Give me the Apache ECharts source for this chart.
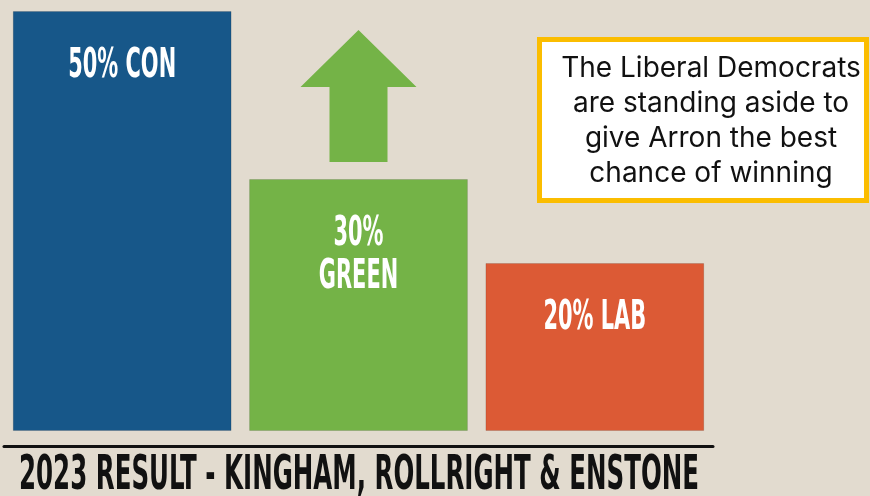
<!DOCTYPE html>
<html>
<head>
<meta charset="utf-8">
<script src="https://cdn.jsdelivr.net/npm/echarts@6/dist/echarts.min.js"></script>
<style>
  html, body { margin: 0; padding: 0; background: #e2dbcf; }
  #chart { width: 870px; height: 496px; }
</style>
</head>
<body>
<div id="chart"></div>
<script>
const parties = ['CON', 'GREEN', 'LAB'];
const shares = [50, 30, 20];
const barLabels = ['50% CON', '30%\nGREEN', '20% LAB'];
const barColors = ['#175789', '#74b347', '#dc5a35'];
const title = '2023 RESULT - KINGHAM, ROLLRIGHT & ENSTONE';
const note = 'The Liberal Democrats\nare standing aside to\ngive Arron the best\nchance of winning';

const condensed = "'Liberation Sans Narrow', 'DejaVu Sans Condensed', sans-serif";

const chart = echarts.init(document.getElementById('chart'));

// squeeze text to a width, the poster font is much narrower than what we have
function fitScale(text, font, target) {
  const ctx = document.createElement('canvas').getContext('2d');
  ctx.font = font;
  return target / ctx.measureText(text).width;
}

const labelFont = 'bold 40px ' + condensed;
const labelScale = fitScale('50% CON', labelFont, 108);

chart.setOption({
  backgroundColor: '#e2dbcf',
  animation: false,
  grid: { left: 4, width: 709, top: 11, bottom: 65 },
  xAxis: {
    type: 'category',
    data: parties,
    offset: 15,
    axisLine: { onZero: false, lineStyle: { color: '#111', width: 3 } },
    axisTick: { show: false },
    axisLabel: { show: false }
  },
  yAxis: { type: 'value', min: 0, max: 50, show: false, splitLine: { show: false } },
  series: [
    {
      type: 'bar',
      data: shares.map((v, i) => ({ value: v, itemStyle: { color: barColors[i] } })),
      barCategoryGap: '7.4%',
      itemStyle: { borderColor: 'rgba(0,0,0,0.12)', borderWidth: 1 }
    },
    {
      type: 'custom',
      data: shares.map((v, i) => [i, v]),
      renderItem: function (params, api) {
        const p = api.coord([api.value(0), api.value(1)]);
        return {
          type: 'text',
          x: p[0],
          y: p[1] + 34,
          scaleX: labelScale,
          style: {
            text: barLabels[params.dataIndex],
            fill: '#fff',
            font: labelFont,
            lineHeight: 43,
            align: 'center',
            verticalAlign: 'top'
          }
        };
      },
      z: 5
    }
  ]
});

// arrow sits above the green bar
const g = chart.convertToPixel({ seriesIndex: 0 }, [1, shares[1]]);
const cx = g[0], barTop = g[1];
const arrow = [
  [cx, barTop - 149],
  [cx + 58, barTop - 92],
  [cx + 29, barTop - 92],
  [cx + 29, barTop - 17],
  [cx - 29, barTop - 17],
  [cx - 29, barTop - 92],
  [cx - 58, barTop - 92]
];

const titleFont = 'bold 48px ' + condensed;

chart.setOption({
  graphic: [
    {
      type: 'polygon',
      shape: { points: arrow },
      style: { fill: '#74b347' }
    },
    {
      type: 'text',
      x: 19,
      y: 477,
      scaleX: fitScale(title, titleFont, 680),
      style: {
        text: title,
        font: titleFont,
        fill: '#111',
        align: 'left',
        verticalAlign: 'middle'
      }
    },
    {
      type: 'rect',
      shape: { x: 539.5, y: 39.5, width: 327, height: 161 },
      style: { fill: '#fff', stroke: '#fbbd00', lineWidth: 5 }
    },
    {
      type: 'text',
      x: 711,
      y: 121,
      style: {
        text: note,
        font: "28px Inter, 'Noto Sans', sans-serif",
        lineHeight: 35,
        fill: '#111',
        align: 'center',
        verticalAlign: 'middle'
      },
      z: 10
    }
  ]
});
</script>
</body>
</html>
